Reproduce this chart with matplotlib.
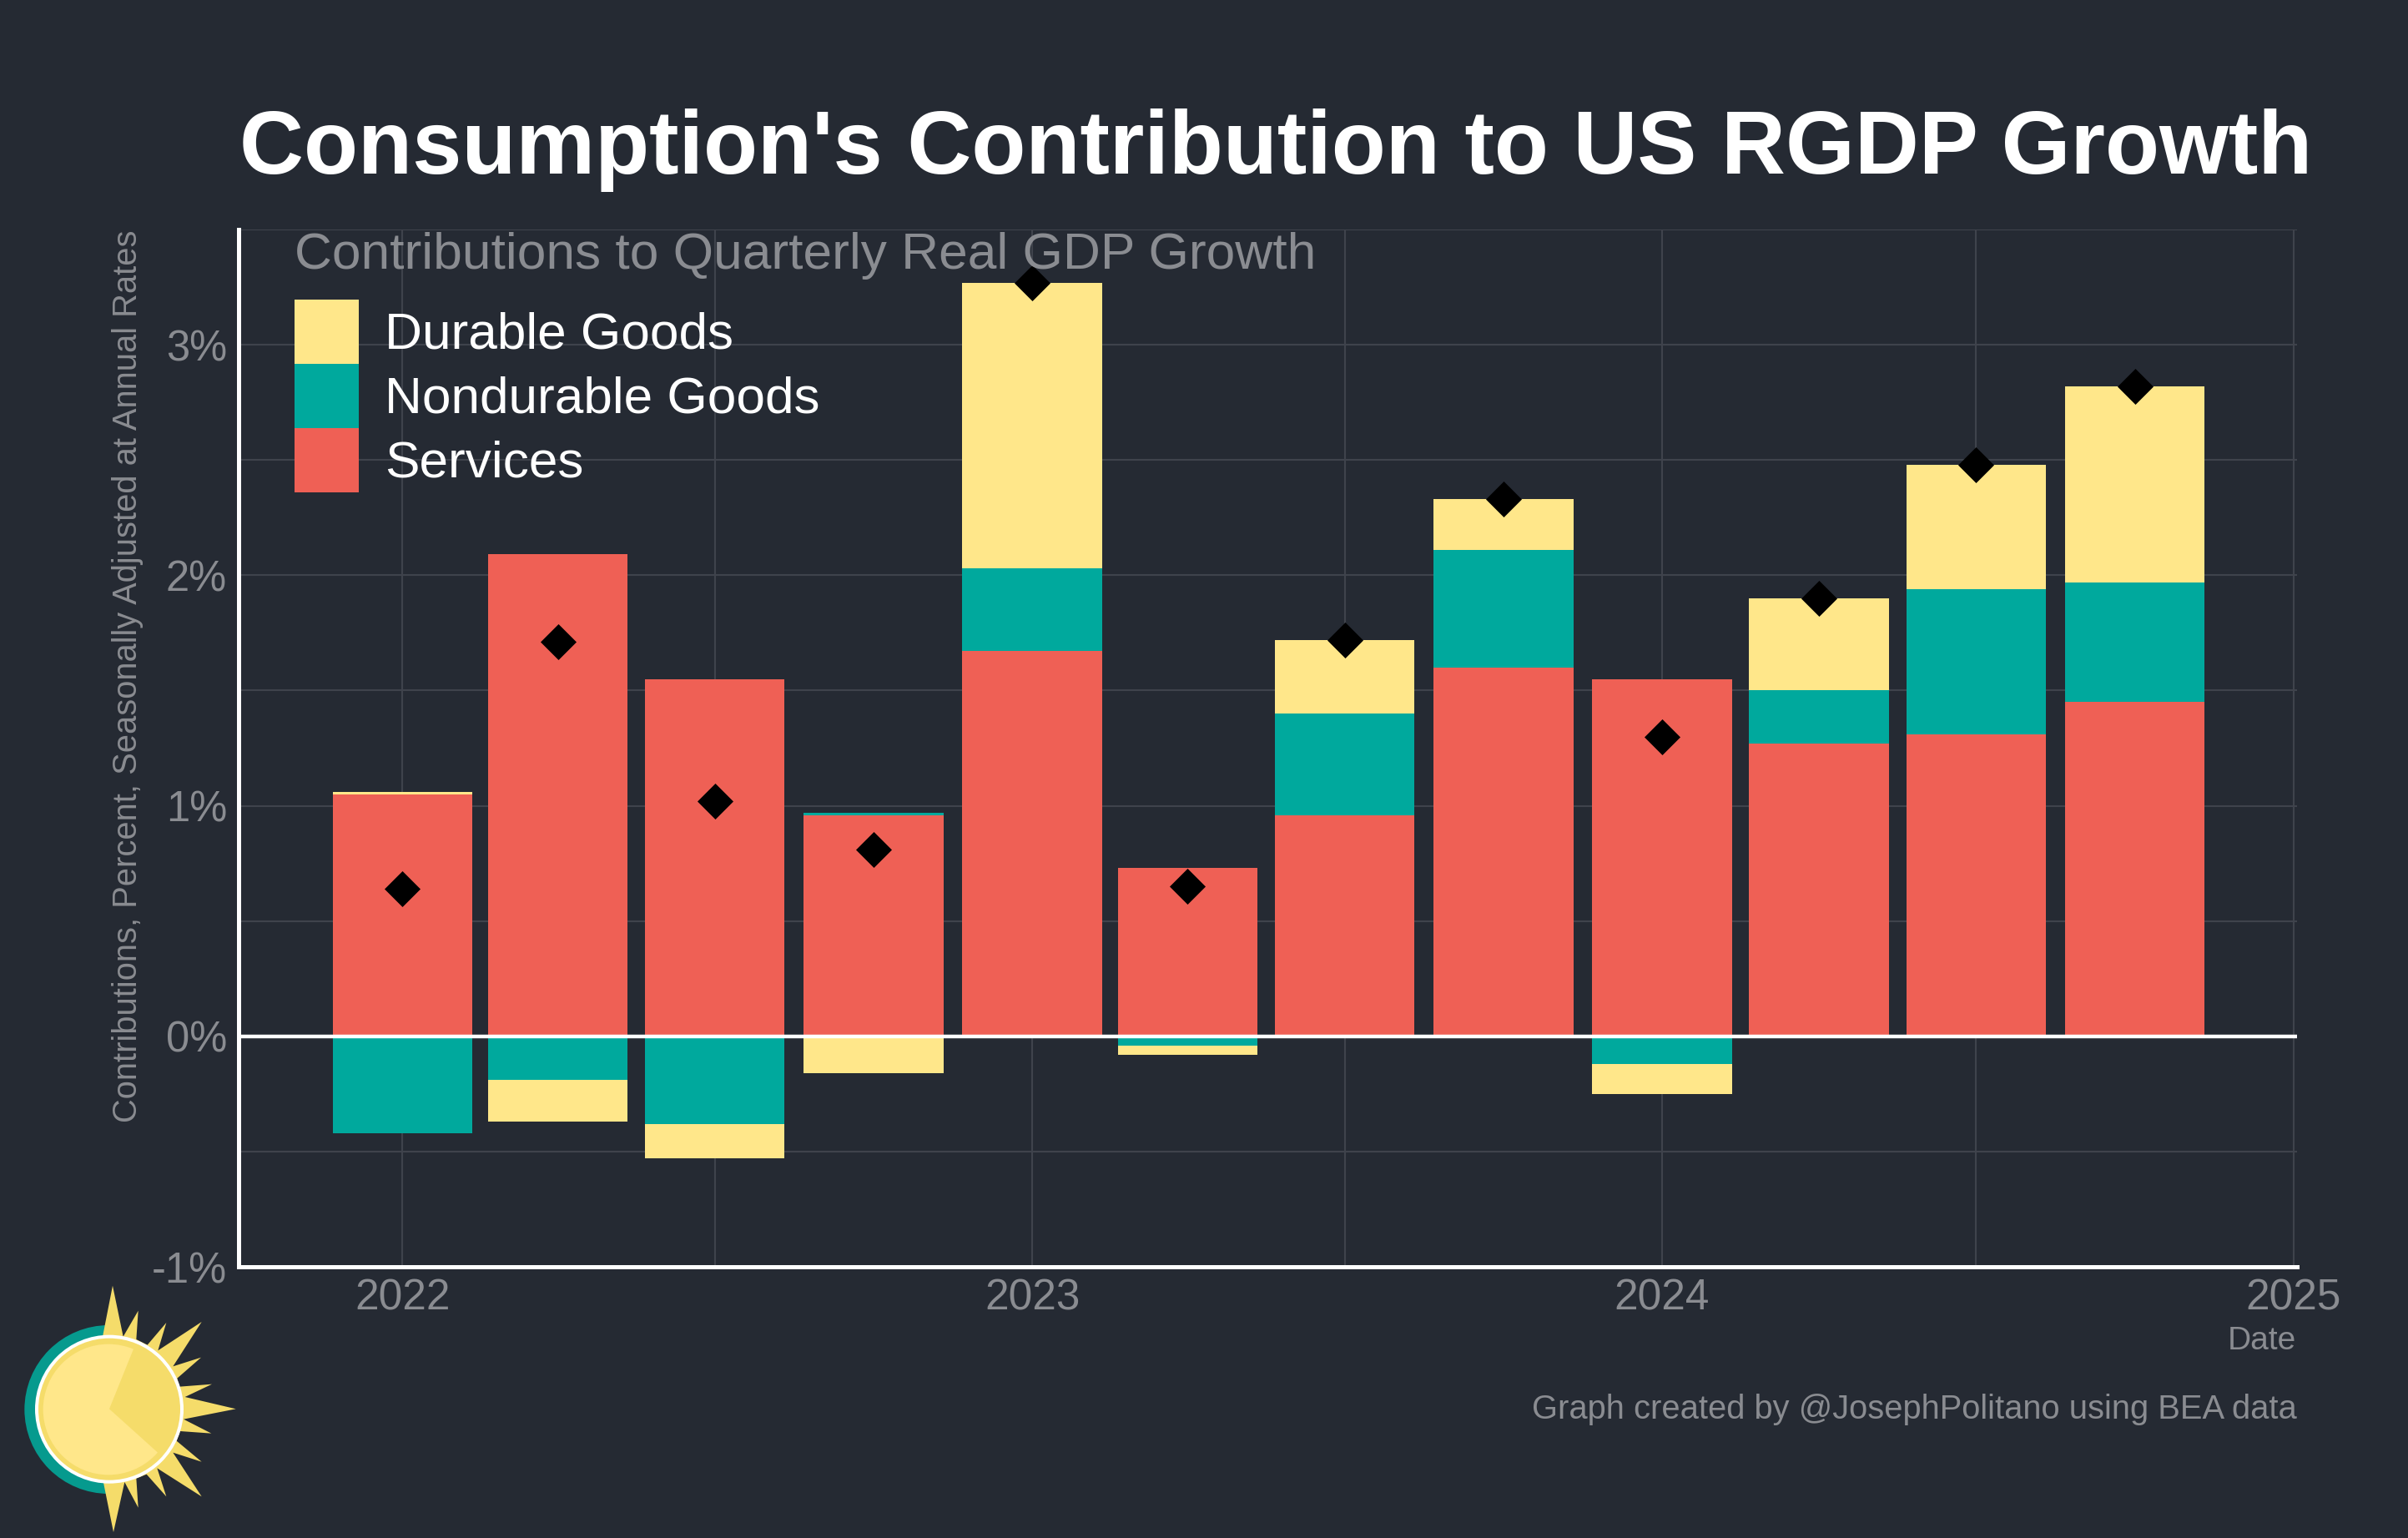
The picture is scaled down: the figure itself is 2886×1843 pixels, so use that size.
import datetime as dt

import matplotlib
matplotlib.use('Agg')
import matplotlib.dates as mdates
import matplotlib.pyplot as plt
import numpy as np
from matplotlib.patches import Circle, Patch, Polygon, Wedge
from matplotlib.ticker import FuncFormatter, MultipleLocator

plt.rcParams['font.family'] = ['Liberation Sans', 'DejaVu Sans']

BG = '#252A33'
GREY = '#8A8C91'
GRID = '#3F434C'
YELLOW = '#FFE78A'
TEAL = '#00A99D'
RED = '#EF6055'

quarters = ['2022-01-01', '2022-04-01', '2022-07-01', '2022-10-01',
            '2023-01-01', '2023-04-01', '2023-07-01', '2023-10-01',
            '2024-01-01', '2024-04-01', '2024-07-01', '2024-10-01']
services = [1.05, 2.09, 1.55, 0.96, 1.67, 0.73, 0.96, 1.60, 1.55, 1.27, 1.31, 1.45]
nondurable = [-0.42, -0.19, -0.38, 0.01, 0.36, -0.04, 0.44, 0.51, -0.12, 0.23, 0.63, 0.52]
durable = [0.01, -0.18, -0.15, -0.16, 1.24, -0.04, 0.32, 0.22, -0.13, 0.40, 0.54, 0.85]
total = [0.64, 1.71, 1.02, 0.81, 3.27, 0.65, 1.72, 2.33, 1.30, 1.90, 2.48, 2.82]

series_names = ['Services', 'Nondurable Goods', 'Durable Goods']
series_colors = [RED, TEAL, YELLOW]

# logo outline, in pixels of a 1020x1089 crop around the sun
sun_rays = [(370, 360), (405, 182), (443, 365), (497, 272), (490, 375), (530, 395), (598, 315),
            (568, 415), (725, 312), (622, 472), (723, 440), (637, 515), (645, 545), (762, 536),
            (665, 582), (848, 625), (660, 662), (760, 713), (648, 705), (635, 740), (725, 815),
            (622, 782), (725, 940), (565, 838), (598, 940), (527, 860), (490, 875), (497, 980),
            (448, 888), (408, 1068), (372, 890)]

W, H = 2886, 1843


def fx(px):
    return px / W


def fy(py):
    return 1 - py / H


def draw_logo(fig):
    logo = fig.add_axes([0, fy(1480 + 363), 340 / W, 363 / H])
    logo.set_xlim(0, 1020)
    logo.set_ylim(1089, 0)
    logo.axis('off')
    logo.add_patch(Wedge((391, 627), 303, 90, 270, color='#069A8E', lw=0))
    logo.add_patch(Polygon(sun_rays, closed=True, color='#F5DC6A', lw=0))
    logo.add_patch(Circle((393, 626), 267, color='white', lw=0))
    logo.add_patch(Circle((393, 626), 255, color='#F5DC6A', lw=0))
    logo.add_patch(Circle((390, 627), 235, color=YELLOW, lw=0))
    logo.add_patch(Wedge((393, 625), 240, -68, 42, color='#F5DC6A', lw=0))


def main():
    dates = [dt.datetime.strptime(q, '%Y-%m-%d') for q in quarters]
    x = mdates.date2num(dates)

    fig = plt.figure(figsize=(W / 100, H / 100), dpi=100, facecolor=BG)
    ax = fig.add_axes([fx(286), fy(1518), (2753 - 286) / W, (1518 - 275) / H], facecolor=BG)

    # stack positive and negative parts separately
    pos = np.zeros(len(x))
    neg = np.zeros(len(x))
    handles = []
    for vals, name, color in zip([services, nondurable, durable], series_names, series_colors):
        vals = np.array(vals)
        bottom = np.where(vals >= 0, pos, neg)
        ax.bar(x, vals, bottom=bottom, width=81, color=color, linewidth=0, zorder=2)
        pos += np.clip(vals, 0, None)
        neg += np.clip(vals, None, 0)
        handles.append(Patch(facecolor=color, label=name))

    ax.axhline(0, color='white', lw=3.2, zorder=3, solid_capstyle='butt')
    ax.scatter(x, total, marker='D', s=480, color='black', linewidth=0, zorder=4, clip_on=False)

    ax.set_xlim(mdates.date2num(dt.datetime(2021, 9, 28)), mdates.date2num(dt.datetime(2025, 1, 3)))
    ax.set_ylim(-1, 3.5)
    ax.xaxis.set_major_locator(mdates.YearLocator())
    ax.xaxis.set_major_formatter(mdates.DateFormatter('%Y'))
    ax.xaxis.set_minor_locator(mdates.MonthLocator(bymonth=7))
    ax.yaxis.set_major_locator(MultipleLocator(1))
    ax.yaxis.set_minor_locator(MultipleLocator(0.5))
    ax.yaxis.set_major_formatter(FuncFormatter(lambda v, pos: f'{v:.0f}%'))
    ax.grid(which='both', color=GRID, lw=1.5, zorder=0)
    ax.set_axisbelow(True)
    ax.tick_params(which='both', length=0)
    ax.tick_params(axis='x', which='major', labelsize=37, labelcolor=GREY, pad=10)
    ax.tick_params(axis='y', which='major', labelsize=36.5, labelcolor=GREY, pad=10)

    for side in ['top', 'right']:
        ax.spines[side].set_visible(False)
    ax.spines['left'].set_color('white')
    ax.spines['left'].set_linewidth(3.6)
    ax.spines['bottom'].set_color('white')
    ax.spines['bottom'].set_linewidth(3.6)

    leg = ax.legend(handles=handles[::-1], loc='upper left', bbox_to_anchor=(67 / 2467, 1 - 84 / 1243),
                    frameon=False, fontsize=44.7, labelcolor='white', handlelength=1.24, handleheight=1.53,
                    labelspacing=0, handletextpad=0.5, borderpad=0, borderaxespad=0)
    leg.set_zorder(5)

    fig.text(fx(287), fy(208), "Consumption's Contribution to US RGDP Growth", fontsize=76.7, fontweight='bold',
             color='white', ha='left', va='baseline')
    fig.text(fx(353), fy(322), 'Contributions to Quarterly Real GDP Growth', fontsize=44.8, color=GREY,
             ha='left', va='baseline')
    fig.text(fx(153), fy(810), 'Contributions, Percent, Seasonally Adjusted at Annual Rates', fontsize=28.7,
             color=GREY, rotation=90, ha='center', va='center')
    fig.text(fx(2752), fy(1607), 'Date', fontsize=28, color=GREY, ha='right', va='center')
    fig.text(fx(2753), fy(1689), 'Graph created by @JosephPolitano using BEA data', fontsize=28.75, color=GREY,
             ha='right', va='center')

    draw_logo(fig)
    fig.savefig('out.png', dpi=100, facecolor=BG)


if __name__ == '__main__':
    main()
